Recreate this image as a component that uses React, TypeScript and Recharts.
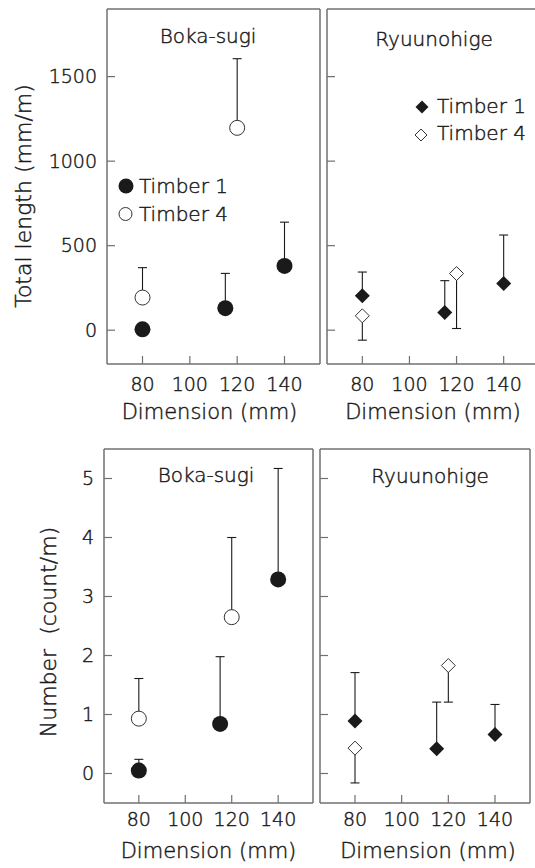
import { ScatterChart, Scatter, XAxis, YAxis, ErrorBar } from "recharts";

const dimTicks = [80, 100, 120, 140];
const lengthTicks = [0, 500, 1000, 1500];
const numberTicks = [0, 1, 2, 3, 4, 5];

// Timber 1 was sampled at 80, 115, 140 mm, Timber 4 at 80, 120 mm
const dimsT1 = [80, 115, 140];
const dimsT4 = [80, 120];

// Boka-sugi, total length (mm/m)
const bokaLenT1 = [5, 130, 380];
const bokaLenT1Up = [0, 206, 259];
const bokaLenT4 = [193, 1197];
const bokaLenT4Up = [177, 409];

// Ryuunohige, total length (mm/m)
const ryuLenT1 = [203, 104, 276];
const ryuLenT1Up = [141, 189, 287];
const ryuLenT4 = [85, 335];
const ryuLenT4Down = [144, 325];

// Boka-sugi, number (count/m)
const bokaNumT1 = [0.05, 0.84, 3.29];
const bokaNumT1Up = [0.19, 1.14, 1.88];
const bokaNumT4 = [0.93, 2.65];
const bokaNumT4Up = [0.68, 1.35];

// Ryuunohige, number (count/m)
const ryuNumT1 = [0.89, 0.42, 0.66];
const ryuNumT1Up = [0.82, 0.79, 0.51];
const ryuNumT4 = [0.43, 1.83];
const ryuNumT4Down = [0.59, 0.62];

const ink = "#1a1a1a";
const frame = "#707070";
// light face thickened a bit with a thin outline, closer to the original's lettering
const textStroke = { stroke: ink, strokeWidth: 0.45 };

// error bars only go one way in the original figure
const rows = (xs: number[], ys: number[], errs: number[], down = false) =>
  xs.map((x, i) => ({ x, y: ys[i], err: down ? [errs[i], 0] : [0, errs[i]] }));

const FilledCircle = (p: any) => <circle cx={p.cx} cy={p.cy} r={8} fill={ink} />;
const OpenCircle = (p: any) => (
  <circle cx={p.cx} cy={p.cy} r={7.5} fill="#fff" stroke="#333" strokeWidth={1} />
);
const diamond = (cx: number, cy: number, h: number) =>
  `M${cx},${cy - h}L${cx + h},${cy}L${cx},${cy + h}L${cx - h},${cy}Z`;
const FilledDiamond = (p: any) => <path d={diamond(p.cx, p.cy, 7.5)} fill={ink} />;
const OpenDiamond = (p: any) => (
  <path d={diamond(p.cx, p.cy, 7)} fill="#fff" stroke="#333" strokeWidth={1} />
);

type PanelProps = {
  left: number;
  top: number;
  width: number;
  height: number;
  yWidth: number;
  right: number;
  rightEdge: boolean;
  yDomain: number[];
  yTicks: number[];
  yLabels: boolean;
  xTickMargin: number;
  xLabelDx: number;
  t1: any[];
  t4: any[];
  shape1: any;
  shape4: any;
};

const Panel = (p: PanelProps) => {
  const axisLine = { stroke: frame, strokeWidth: 1.5 };
  return (
    <div style={{ position: "absolute", left: p.left, top: p.top, width: p.width, height: p.height }}>
      <ScatterChart
        width={p.width}
        height={p.height}
        margin={{ top: 8, right: p.right - 1, left: 0, bottom: 0 }}
      >
        <XAxis
          dataKey="x"
          type="number"
          domain={[65, 155]}
          ticks={dimTicks}
          interval={0}
          height={60}
          tickSize={-8}
          tickMargin={p.xTickMargin}
          axisLine={axisLine}
          tickLine={{ stroke: frame, strokeWidth: 1.2 }}
          tick={{ fill: ink, fontSize: 19, ...textStroke }}
          label={{
            value: "Dimension (mm)",
            position: "insideBottom",
            offset: 5,
            dx: p.xLabelDx,
            fill: ink,
            fontSize: 21,
            ...textStroke,
          }}
        />
        <YAxis
          dataKey="y"
          type="number"
          domain={p.yDomain}
          ticks={p.yTicks}
          interval={0}
          width={p.yWidth}
          tickSize={-8}
          tickMargin={18}
          axisLine={axisLine}
          tickLine={{ stroke: frame, strokeWidth: 1.2 }}
          tick={{ fill: ink, fontSize: 19, ...textStroke }}
          tickFormatter={p.yLabels ? undefined : () => ""}
        />
        {/* top and right edges of the box */}
        <XAxis
          xAxisId="top"
          orientation="top"
          type="number"
          domain={[65, 155]}
          height={1}
          tick={false}
          tickLine={false}
          axisLine={axisLine}
        />
        <YAxis
          yAxisId="right"
          orientation="right"
          type="number"
          domain={[0, 1]}
          width={1}
          tick={false}
          tickLine={false}
          axisLine={p.rightEdge ? axisLine : false}
        />
        <Scatter data={p.t1} shape={p.shape1} isAnimationActive={false}>
          <ErrorBar dataKey="err" direction="y" width={4.5} stroke={ink} strokeWidth={1.1} />
        </Scatter>
        <Scatter data={p.t4} shape={p.shape4} isAnimationActive={false}>
          <ErrorBar dataKey="err" direction="y" width={4.5} stroke={ink} strokeWidth={1.1} />
        </Scatter>
      </ScatterChart>
    </div>
  );
};

const App = () => {
  return (
    <div
      style={{
        position: "absolute",
        left: 0,
        top: 0,
        width: 535,
        height: 868,
        overflow: "hidden",
        background: "#fff",
        fontFamily: "'DejaVu Sans', sans-serif",
        fontWeight: 300,
      }}
    >
      <Panel
        left={0}
        top={0}
        width={330}
        height={424}
        yWidth={107}
        right={10}
        rightEdge={true}
        yDomain={[-200, 1900]}
        yTicks={lengthTicks}
        yLabels={true}
        xTickMargin={22}
        xLabelDx={-4}
        t1={rows(dimsT1, bokaLenT1, bokaLenT1Up)}
        t4={rows(dimsT4, bokaLenT4, bokaLenT4Up)}
        shape1={FilledCircle}
        shape4={OpenCircle}
      />
      <Panel
        left={320}
        top={0}
        width={230}
        height={424}
        yWidth={7}
        right={11}
        rightEdge={false}
        yDomain={[-200, 1900]}
        yTicks={lengthTicks}
        yLabels={false}
        xTickMargin={22}
        xLabelDx={0}
        t1={rows(dimsT1, ryuLenT1, ryuLenT1Up)}
        t4={rows(dimsT4, ryuLenT4, ryuLenT4Down, true)}
        shape1={FilledDiamond}
        shape4={OpenDiamond}
      />
      <Panel
        left={0}
        top={440}
        width={320}
        height={423}
        yWidth={104}
        right={7}
        rightEdge={true}
        yDomain={[-0.5, 5.5]}
        yTicks={numberTicks}
        yLabels={true}
        xTickMargin={18}
        xLabelDx={0}
        t1={rows(dimsT1, bokaNumT1, bokaNumT1Up)}
        t4={rows(dimsT4, bokaNumT4, bokaNumT4Up)}
        shape1={FilledCircle}
        shape4={OpenCircle}
      />
      <Panel
        left={313}
        top={440}
        width={225}
        height={423}
        yWidth={7}
        right={8}
        rightEdge={true}
        yDomain={[-0.5, 5.5]}
        yTicks={numberTicks}
        yLabels={false}
        xTickMargin={18}
        xLabelDx={3}
        t1={rows(dimsT1, ryuNumT1, ryuNumT1Up)}
        t4={rows(dimsT4, ryuNumT4, ryuNumT4Down, true)}
        shape1={FilledDiamond}
        shape4={OpenDiamond}
      />
      <svg
        width={535}
        height={868}
        style={{ position: "absolute", left: 0, top: 0, pointerEvents: "none" }}
        fill={ink}
      >
        <g {...textStroke}>
          <text x={31} y={196} fontSize={22} textAnchor="middle" transform="rotate(-90 31 196)">
            Total length (mm/m)
          </text>
          <text
            x={56}
            y={632}
            fontSize={22}
            textAnchor="middle"
            transform="rotate(-90 56 632)"
            style={{ whiteSpace: "pre" }}
          >
            {"Number  (count/m)"}
          </text>
          <text x={208} y={43} fontSize={20} textAnchor="middle">Boka-sugi</text>
          <text x={434} y={46} fontSize={20} textAnchor="middle">Ryuunohige</text>
          <text x={206} y={482} fontSize={20} textAnchor="middle">Boka-sugi</text>
          <text x={430} y={483} fontSize={20} textAnchor="middle">Ryuunohige</text>
          <text x={139} y={193} fontSize={20}>Timber 1</text>
          <text x={139} y={221} fontSize={20}>Timber 4</text>
          <text x={437} y={113} fontSize={20}>Timber 1</text>
          <text x={437} y={140} fontSize={20}>Timber 4</text>
        </g>

        <circle cx={126} cy={186} r={7.5} fill={ink} />
        <circle cx={125.5} cy={214} r={6.5} fill="#fff" stroke="#333" strokeWidth={1} />
        <path d={diamond(422, 107, 6.5)} fill={ink} />
        <path d={diamond(421, 135, 6)} fill="#fff" stroke="#333" strokeWidth={1} />
      </svg>
    </div>
  );
};

export default App;
